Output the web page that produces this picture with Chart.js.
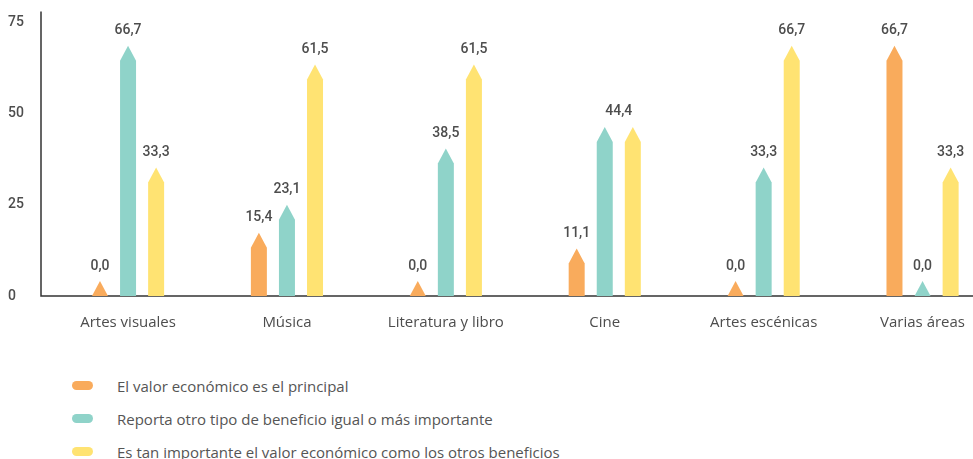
<!DOCTYPE html>
<html>
<head>
<meta charset="utf-8">
<script src="https://cdn.jsdelivr.net/npm/chart.js@4.4.1/dist/chart.umd.min.js"></script>
<style>
    html, body { margin: 0; padding: 0; background: #fff; overflow: hidden; }
    #wrap { position: relative; width: 973px; height: 459px; overflow: hidden; }
    #chartBox { position: absolute; left: 0; top: 0; width: 1002px; height: 345px; }
    #legend { position: absolute; left: 72px; top: 369px; font-family: "Open Sans", sans-serif; font-size: 15px; color: #555; }
    .row { display: flex; align-items: center; height: 33px; }
    .pill { width: 21px; height: 9px; border-radius: 5px; margin-right: 24px; }
</style>
</head>
<body>
<div id="wrap">
    <div id="chartBox"><canvas id="benefitChart" width="1002" height="345"></canvas></div>
    <div id="legend"></div>
</div>
<script>
// Categories and series (percent)
const categories = ['Artes visuales', 'Música', 'Literatura y libro', 'Cine', 'Artes escénicas', 'Varias áreas'];
const seriesNames = [
    'El valor económico es el principal',
    'Reporta otro tipo de beneficio igual o más importante',
    'Es tan importante el valor económico como los otros beneficios'
];
const economicMain = [0.0, 15.4, 0.0, 11.1, 0.0, 66.7];
const otherBenefit = [66.7, 23.1, 38.5, 44.4, 33.3, 0.0];
const equalValue = [33.3, 61.5, 61.5, 44.4, 66.7, 33.3];
const yTicks = [0, 25, 50, 75];

const colors = ['rgb(249, 171, 92)', 'rgb(143, 211, 201)', 'rgb(255, 227, 114)'];
const textColor = '#4d4d4d';

const fmt = v => v.toFixed(1).replace('.', ',');

// Pointed ("pencil") bars + value labels
const pencilBars = {
    id: 'pencilBars',
    beforeDatasetsDraw(chart) {
        // axis lines (y axis sits a little left of the first category)
        const { ctx, chartArea } = chart;
        ctx.save();
        ctx.strokeStyle = '#333';
        ctx.lineWidth = 1.5;
        ctx.beginPath();
        ctx.moveTo(41, chartArea.top);
        ctx.lineTo(41, chartArea.bottom);
        ctx.lineTo(chartArea.right, chartArea.bottom);
        ctx.stroke();
        ctx.restore();
    },
    afterDatasetsDraw(chart) {
        const ctx = chart.ctx;
        ctx.save();
        const labels = [];
        chart.data.datasets.forEach((ds, di) => {
            const meta = chart.getDatasetMeta(di);
            meta.data.forEach((bar, i) => {
                const half = bar.width / 2;
                const tip = Math.min(bar.y - 7, bar.base - 15);
                const shoulder = Math.min(tip + 15, bar.base);
                ctx.fillStyle = colors[di];
                ctx.beginPath();
                ctx.moveTo(bar.x - half, bar.base);
                ctx.lineTo(bar.x - half, shoulder);
                ctx.lineTo(bar.x, tip);
                ctx.lineTo(bar.x + half, shoulder);
                ctx.lineTo(bar.x + half, bar.base);
                ctx.closePath();
                ctx.fill();
                labels.push({ i, di, x: bar.x, y: tip - 8, text: fmt(ds.data[i]) });
            });
        });

        // same value on neighbouring bars -> one shared label
        const shown = [];
        labels.forEach(l => {
            const twin = shown.find(s => s.i === l.i && s.text === l.text && Math.abs(s.y - l.y) < 2);
            if (twin) { twin.x = (twin.x + l.x) / 2; } else { shown.push(Object.assign({}, l)); }
        });

        ctx.fillStyle = textColor;
        ctx.font = '500 14px Roboto, "Liberation Sans", sans-serif';
        ctx.textAlign = 'center';
        ctx.textBaseline = 'bottom';
        shown.forEach(l => ctx.fillText(l.text, l.x, l.y));
        ctx.restore();
    }
};

const datasets = [economicMain, otherBenefit, equalValue].map((vals, i) => ({
    label: seriesNames[i],
    data: vals,
    backgroundColor: 'rgba(0,0,0,0)',
    borderWidth: 0,
    categoryPercentage: 0.53,
    barPercentage: 0.57
}));

new Chart(document.getElementById('benefitChart'), {
    type: 'bar',
    data: { labels: categories, datasets: datasets },
    options: {
        responsive: false,
        animation: false,
        layout: { padding: { top: 8, left: 8, right: 0, bottom: 0 } },
        plugins: { legend: { display: false }, tooltip: { enabled: false } },
        scales: {
            x: {
                grid: { display: false, drawTicks: false },
                border: { display: false },
                ticks: {
                    padding: 18,
                    color: textColor,
                    font: { family: '"Open Sans", sans-serif', size: 15 }
                },
                afterFit: scale => { scale.height = 49; }
            },
            y: {
                min: 0,
                max: 78,
                grid: { display: false, drawTicks: false },
                border: { display: false },
                ticks: {
                    stepSize: 25,
                    crossAlign: 'far',
                    color: textColor,
                    font: { family: 'Roboto, "Liberation Sans", sans-serif', size: 14, weight: '500' }
                },
                afterBuildTicks: scale => { scale.ticks = yTicks.map(v => ({ value: v })); },
                afterFit: scale => { scale.width = 40.6; }
            }
        }
    },
    plugins: [pencilBars]
});

// Legend
const legend = document.getElementById('legend');
seriesNames.forEach((name, i) => {
    const row = document.createElement('div');
    row.className = 'row';
    row.innerHTML = '<span class="pill" style="background:' + colors[i] + '"></span><span>' + name + '</span>';
    legend.appendChild(row);
});
</script>
</body>
</html>
